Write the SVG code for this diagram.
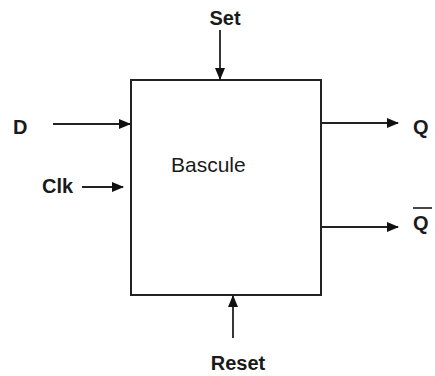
<svg xmlns="http://www.w3.org/2000/svg" width="435" height="376" viewBox="0 0 435 376">
<defs>
<marker id="arr" markerUnits="userSpaceOnUse" markerWidth="12" markerHeight="10" refX="11" refY="5" orient="auto">
<path d="M0,0 L12,5 L0,10 z" fill="#111"/>
</marker>
<style>
.lbl{font-family:"Liberation Sans",Arial,sans-serif;font-weight:bold;font-size:20px;fill:#1a1a1a}
.conn{stroke:#222;stroke-width:1.8;fill:none;marker-end:url(#arr)}
.box{fill:#fff;stroke:#222;stroke-width:2}
.title{font-family:"Liberation Sans",Arial,sans-serif;font-size:21px;fill:#1a1a1a}
</style>
</defs>
<rect width="435" height="376" fill="#fff"/>
<g id="bascule">
<rect class="box" x="131" y="80" width="190" height="215"/>
<text class="title" x="171" y="172">Bascule</text>
</g>
<g id="connectors">
<line class="conn" x1="220" y1="30" x2="220" y2="79"/>
<line class="conn" x1="233" y1="338" x2="233" y2="296"/>
<line class="conn" x1="53" y1="124" x2="130" y2="124"/>
<line class="conn" x1="82" y1="187" x2="123" y2="187"/>
<line class="conn" x1="321" y1="123" x2="398" y2="123"/>
<line class="conn" x1="321" y1="227" x2="398" y2="227"/>
</g>
<g id="set"><text class="lbl" x="225" y="25" text-anchor="middle">Set</text></g>
<g id="reset"><text class="lbl" x="238" y="370" text-anchor="middle">Reset</text></g>
<g id="d"><text class="lbl" x="13" y="134">D</text></g>
<g id="clk"><text class="lbl" x="42" y="193">Clk</text></g>
<g id="q"><text class="lbl" x="413" y="134">Q</text></g>
<g id="qbar"><text class="lbl" x="413" y="230">Q</text><line x1="413" y1="208" x2="432" y2="208" stroke="#1a1a1a" stroke-width="1.6"/></g>
</svg>
